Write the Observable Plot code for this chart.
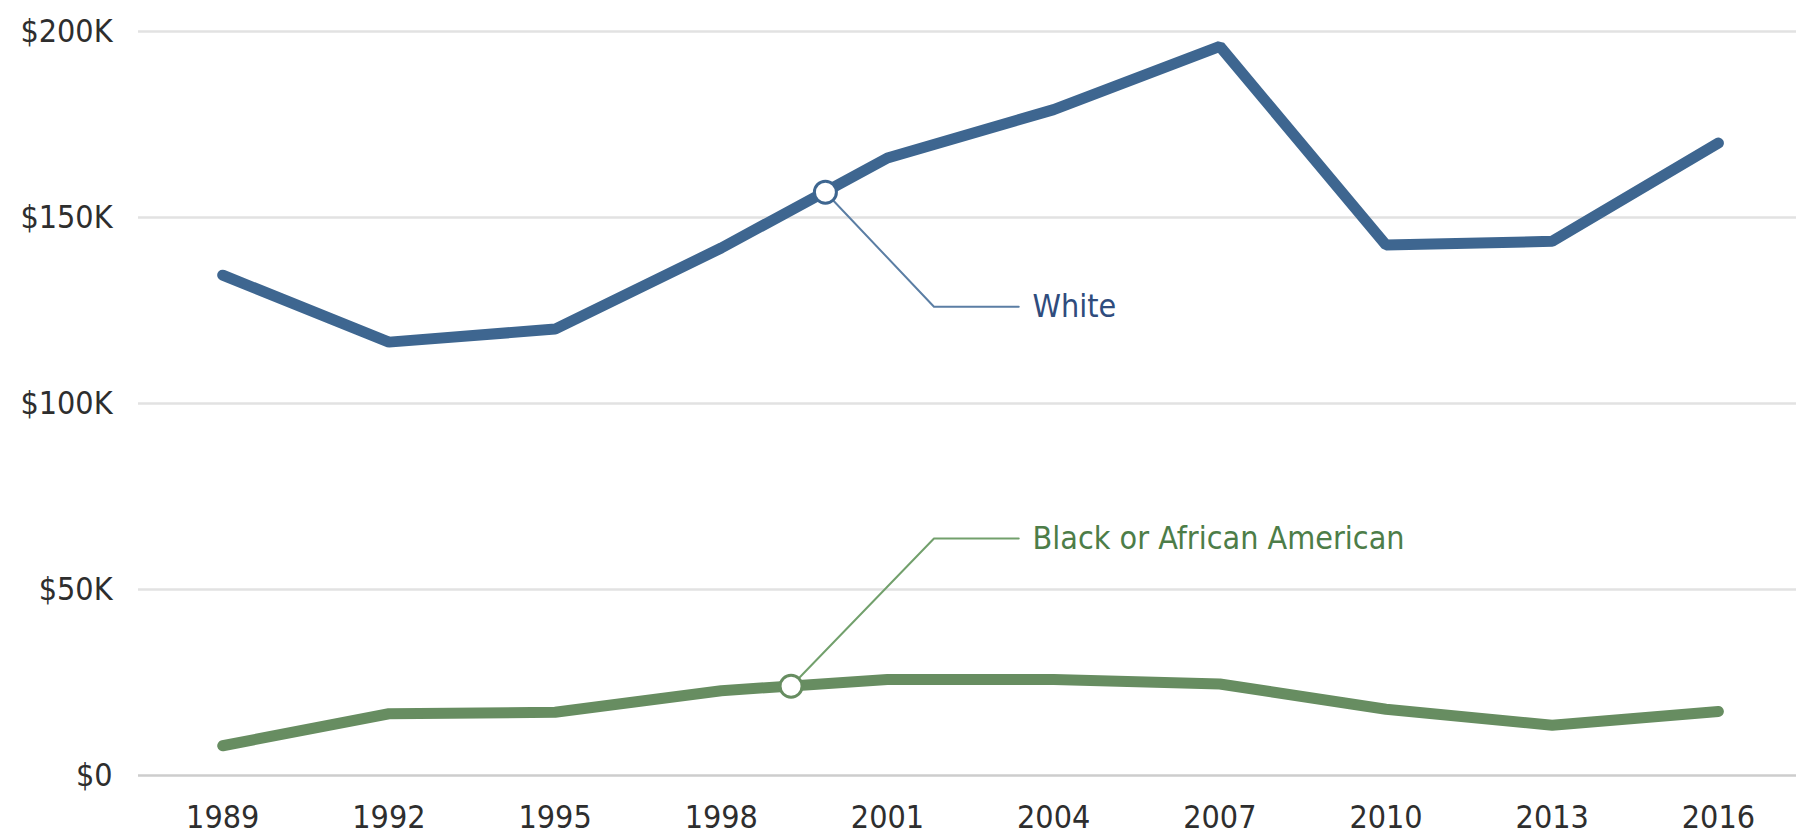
<!DOCTYPE html>
<html>
<head>
<meta charset="utf-8">
<script src="https://cdn.jsdelivr.net/npm/d3@7"></script>
<script src="https://cdn.jsdelivr.net/npm/@observablehq/plot@0.6"></script>
<style>
  html, body { margin: 0; padding: 0; background: #fff; }
  #chart svg { display: block; }
</style>
</head>
<body>
<div id="chart"></div>
<script>
// Data (values in dollars)
const years = [1989, 1992, 1995, 1998, 2001, 2004, 2007, 2010, 2013, 2016];
const whiteValues = [134500, 116500, 120000, 141800, 166000, 179000, 196000, 142600, 143600, 170000];
const blackValues = [8000, 16600, 17000, 22800, 25800, 25800, 24600, 17800, 13500, 17200];
const yTicks = [0, 50000, 100000, 150000, 200000];
const yTickLabels = ["$0", "$50K", "$100K", "$150K", "$200K"];
const seriesNames = ["White", "Black or African American"];

// Annotation anchors (year, value) for the callouts
const whiteCallout = [[1999.88, 156800], [2001.84, 126000], [2003.37, 126000]];
const blackCallout = [[1999.26, 24000], [2001.84, 63700], [2003.37, 63700]];
const labelYear = 2003.62;

const font = '"Liberation Sans Narrow", "Arial Narrow", "DejaVu Sans Condensed", sans-serif';
const whiteColor = "#3e6690";
const blackColor = "#678d61";

const whiteData = years.map((y, i) => ({year: y, value: whiteValues[i]}));
const blackData = years.map((y, i) => ({year: y, value: blackValues[i]}));
const toPts = arr => arr.map(([year, value]) => ({year, value}));

const chart = Plot.plot({
  width: 1796,
  height: 839,
  marginLeft: 138,
  marginRight: 0,
  marginTop: 31,
  marginBottom: 64,
  style: {fontFamily: font, fontSize: "32px", color: "#2e2e2e", background: "#fff"},
  x: {domain: [1987.48, 2017.41], label: null},
  y: {domain: [0, 200000], label: null},
  marks: [
    Plot.ruleY(yTicks.slice(1), {stroke: "#e2e2e2", strokeWidth: 2.5}),
    Plot.ruleY([0], {stroke: "#cdcdcd", strokeWidth: 2.5}),
    Plot.axisY({ticks: yTicks, tickSize: 0, tickPadding: 26,
      tickFormat: d => yTickLabels[yTicks.indexOf(d)], fontSize: 32, fill: "#2e2e2e"}),
    Plot.axisX({ticks: years, tickSize: 0, tickPadding: 30,
      tickFormat: d => String(d), fontSize: 32, fill: "#2e2e2e"}),
    // leader lines
    Plot.line(toPts(whiteCallout), {x: "year", y: "value", stroke: "#5b7ea4", strokeWidth: 2}),
    Plot.line(toPts(blackCallout), {x: "year", y: "value", stroke: "#72a06c", strokeWidth: 2}),
    // series lines
    Plot.line(whiteData, {x: "year", y: "value", stroke: whiteColor, strokeWidth: 11,
      strokeLinejoin: "miter", strokeLinecap: "round"}),
    Plot.line(blackData, {x: "year", y: "value", stroke: blackColor, strokeWidth: 11,
      strokeLinejoin: "miter", strokeLinecap: "round"}),
    // callout circles
    Plot.dot([whiteCallout[0]].map(([year, value]) => ({year, value})),
      {x: "year", y: "value", r: 11, fill: "#fff", stroke: whiteColor, strokeWidth: 3}),
    Plot.dot([blackCallout[0]].map(([year, value]) => ({year, value})),
      {x: "year", y: "value", r: 11, fill: "#fff", stroke: blackColor, strokeWidth: 3}),
    // labels
    Plot.text([{year: labelYear, value: whiteCallout[2][1], name: seriesNames[0]}],
      {x: "year", y: "value", text: "name", textAnchor: "start", fontSize: 32, fill: "#2f4c7d"}),
    Plot.text([{year: labelYear, value: blackCallout[2][1], name: seriesNames[1]}],
      {x: "year", y: "value", text: "name", textAnchor: "start", fontSize: 32, fill: "#4d7d48"})
  ]
});
document.getElementById("chart").appendChild(chart);
</script>
</body>
</html>
